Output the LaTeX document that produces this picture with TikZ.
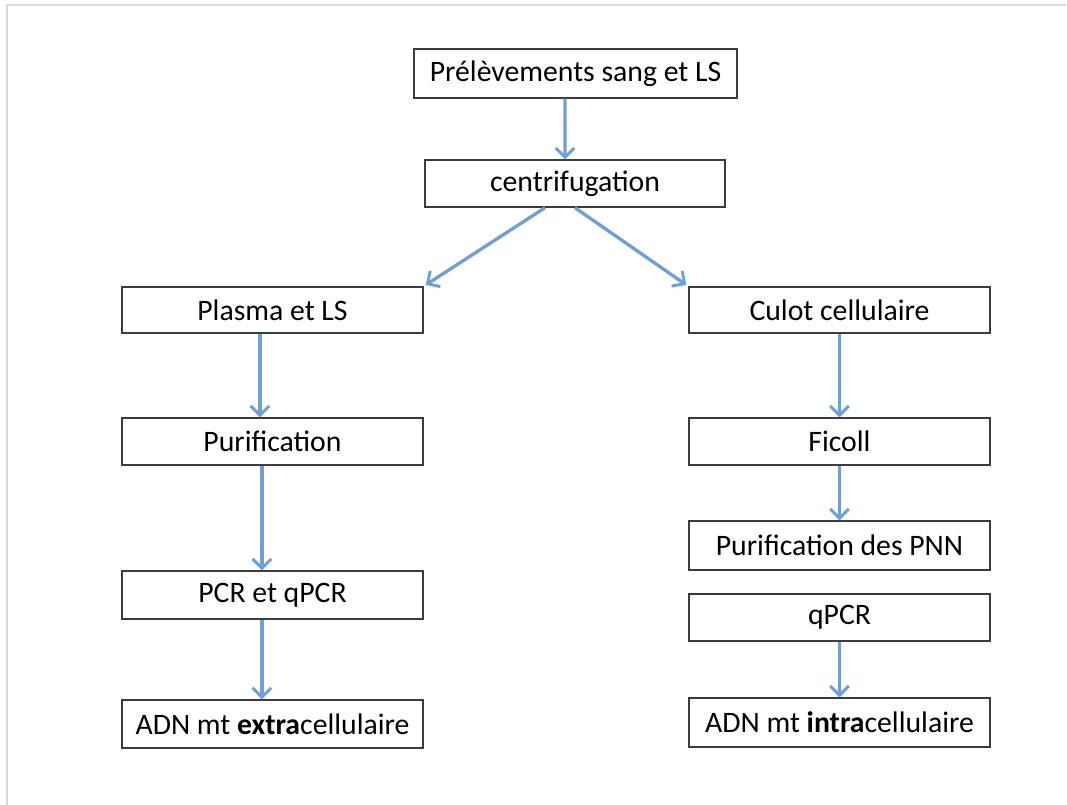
\documentclass[tikz,border=0pt]{standalone}
\usepackage{fontspec}
\setmainfont{Carlito}
\usetikzlibrary{arrows.meta}
\definecolor{arrowblue}{HTML}{6F9FD6}
\definecolor{boxline}{HTML}{3C3C3C}
\definecolor{frameline}{HTML}{D8D8D8}
\begin{document}
\begin{tikzpicture}[x=0.75pt,y=-0.75pt,
  stepbox/.style={draw=boxline,line width=1.1pt,fill=white,rectangle,inner sep=0pt,
    minimum width=#1*0.75pt,font=\fontsize{22.3}{26}\selectfont},
  stepbox/.default=301,
  arr/.style={draw=arrowblue,line width=2.5pt,-{Straight Barb[length=7pt,width=14pt,line width=2.2pt]}}]
\useasboundingbox (0,0) rectangle (1067,805);
\fill[white] (0,0) rectangle (1067,805);
\draw[frameline,line width=1.2pt] (7,805) -- (7,5) -- (1066,5);

\node[stepbox=323,minimum height=49*0.75pt] (pre) at (575.5,73.5) {Prélèvements sang et LS};
\node[stepbox=300,minimum height=47*0.75pt] (cen) at (575,183.5) {centrifugation\hspace{15pt}};
\node[stepbox,minimum height=46*0.75pt] (pla) at (272.5,310) {Plasma et LS};
\node[stepbox,minimum height=46*0.75pt] (cul) at (839.5,310) {Culot cellulaire};
\node[stepbox,minimum height=47*0.75pt] (pur) at (272.5,441.5) {Purification};
\node[stepbox,minimum height=47*0.75pt] (fic) at (839.5,441.5) {Ficoll\hspace{7pt}};
\node[stepbox,minimum height=49*0.75pt] (pnn) at (839.5,545.5) {Purification des PNN\hspace{11pt}};
\node[stepbox,minimum height=48*0.75pt] (pcr) at (272.5,595) {PCR et qPCR\hspace{6pt}};
\node[stepbox,minimum height=47*0.75pt] (qpcr) at (839.5,617.5) {qPCR\hspace{26pt}};
\node[stepbox,minimum height=48*0.75pt] (adne) at (272.5,724) {ADN mt \textbf{extra}cellulaire};
\node[stepbox,minimum height=49*0.75pt] (adni) at (839.5,722.5) {ADN mt \textbf{intra}cellulaire};

\draw[arr] ([xshift=-7.9pt]pre.south) -- ([xshift=-7.5pt]cen.north);
\draw[arr] ([xshift=-22.5pt]cen.south) -- ([xshift=1.5pt,yshift=1pt]pla.north east);
\draw[arr] ([xshift=0pt]cen.south) -- ([xshift=-1.5pt,yshift=1pt]cul.north west);
\draw[arr] ([xshift=-9.4pt]pla.south) -- ([xshift=-9.4pt]pur.north);
\draw[arr] ([xshift=-7.9pt]pur.south) -- ([xshift=-7.9pt]pcr.north);
\draw[arr] ([xshift=-7.9pt]pcr.south) -- ([xshift=-7.9pt]adne.north);
\draw[arr] (cul.south) -- (fic.north);
\draw[arr] (fic.south) -- (pnn.north);
\draw[arr] (qpcr.south) -- (adni.north);
\end{tikzpicture}
\end{document}
